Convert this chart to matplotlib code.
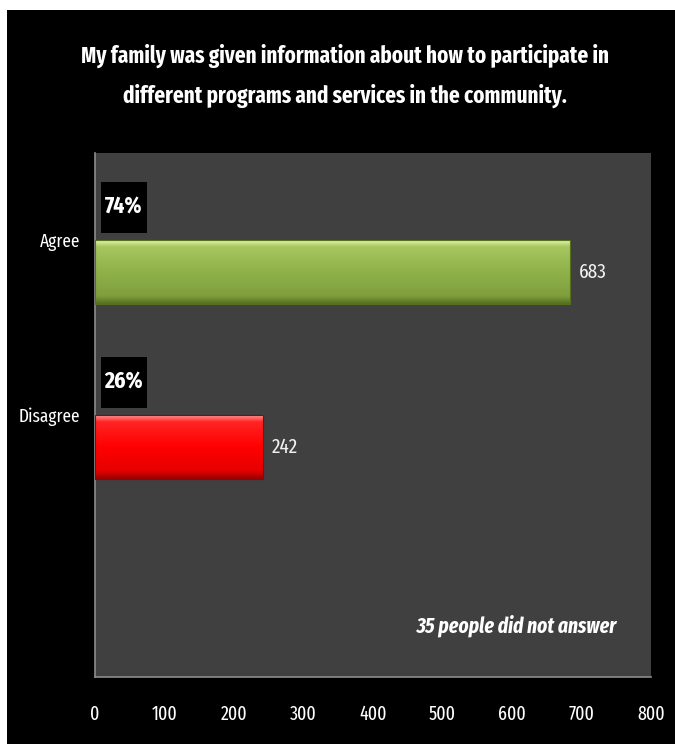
import matplotlib
matplotlib.use('Agg')
import matplotlib.pyplot as plt
from matplotlib import font_manager
from matplotlib.patches import Rectangle
from matplotlib.colors import LinearSegmentedColormap
import numpy as np

# pick a narrow face if one is installed
FONT = 'DejaVu Sans'
for cand in ['Fira Sans Extra Condensed', 'Fira Sans Condensed', 'Roboto Condensed', 'Archivo Narrow']:
    try:
        font_manager.findfont(cand, fallback_to_default=False)
        FONT = cand
        break
    except ValueError:
        continue
plt.rcParams['font.family'] = [FONT, 'DejaVu Sans']

# data
title = ('My family was given information about how to participate in\n'
         'different programs and services in the community.')
categories = ['Agree', 'Disagree']
counts = [683, 242]
percents = ['74%', '26%']
note = '35 people did not answer'
xticks = [0, 100, 200, 300, 400, 500, 600, 700, 800]

# vertical shading of each bar (top -> bottom)
shades = [[(0, '#def3a0'), (0.1, '#a6c65e'), (0.5, '#8fb14a'), (0.88, '#7f9f3d'), (1, '#56701f')],
          [(0, '#ff9090'), (0.1, '#ff2424'), (0.5, '#ff0000'), (0.88, '#e60000'), (1, '#9a0000')]]

fig = plt.figure(figsize=(6.75, 7.44), dpi=100, facecolor='white')
fig.patches.append(Rectangle((7 / 675, 0), 1, 1 - 10 / 744, transform=fig.transFigure,
                             facecolor='black', edgecolor='none', zorder=-10))

ax = fig.add_axes([95 / 675, 67 / 744, 556 / 675, 524 / 744])
ax.set_facecolor('#404040')

y = np.arange(len(categories)) + 0.5
bars = ax.barh(y, counts, height=0.366, align='edge', color='none', edgecolor='none')
for bar, sh in zip(bars, shades):
    cmap = LinearSegmentedColormap.from_list('g', sh)
    x0, y0 = bar.get_x(), bar.get_y()
    w, h = bar.get_width(), bar.get_height()
    grad = np.linspace(0, 1, 64).reshape(-1, 1)
    im = ax.imshow(grad, cmap=cmap, aspect='auto', extent=[x0, x0 + w, y0 + h, y0],
                   zorder=2, interpolation='bicubic')
    im.set_clip_path(bar)
    ax.add_patch(Rectangle((x0, y0), w, h, facecolor='none', edgecolor=sh[-1][1],
                           linewidth=0.8, zorder=3))

for yi, c, p in zip(y, counts, percents):
    ax.text(c + 13, yi + 0.183, str(c), color='#f0f0f0', fontsize=15,
            ha='left', va='center', zorder=4)
    # black label box above the bar
    ax.add_patch(Rectangle((8.6, yi - 0.334), 66, 0.292, facecolor='black',
                           edgecolor='none', zorder=3))
    ax.text(41.6, yi - 0.19, p, color='white', fontsize=17, fontweight='bold',
            ha='center', va='center', zorder=4)

ax.set_xlim(0, 800)
ax.set_ylim(3, 0)
ax.set_xticks(xticks)
ax.set_xticklabels([str(t) for t in xticks])
ax.set_yticks(y)
ax.set_yticklabels(categories)
ax.tick_params(axis='x', colors='white', labelsize=14, length=0, pad=20)
ax.tick_params(axis='y', colors='white', labelsize=13.5, length=0, pad=11)
for s in ['top', 'right']:
    ax.spines[s].set_visible(False)
for s in ['left', 'bottom']:
    ax.spines[s].set_color('#8c8c8c')
    ax.spines[s].set_linewidth(1.2)

ax.text(0.94, 0.097, note, transform=ax.transAxes, color='white', fontsize=15.2,
        fontweight='bold', fontstyle='italic', ha='right', va='center')

fig.text(0.511, 1 - 76 / 744, title, color='white', fontsize=16.5, fontweight='bold',
         ha='center', va='center', linespacing=1.8)

fig.savefig('out.png', dpi=100, facecolor=fig.get_facecolor())
